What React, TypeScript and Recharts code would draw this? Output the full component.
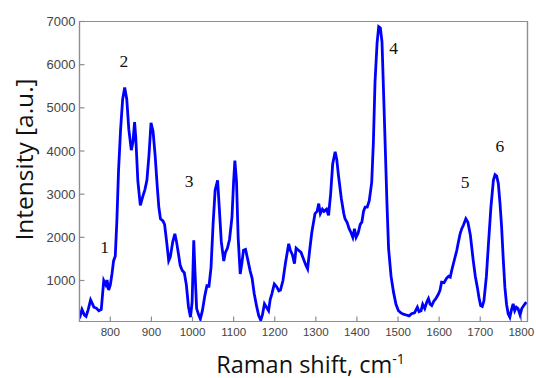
import React from 'react';
import { LineChart, Line, XAxis, YAxis, ReferenceDot, ReferenceArea, Label } from 'recharts';

// Raman shift (cm-1) and intensity (a.u.)
const ramanShift = [
  725, 731, 737, 741, 746, 752, 756, 760, 766, 772, 778, 784, 789, 792, 796, 800,
  804, 808, 812, 816, 820, 825, 830, 835, 840, 845, 851, 855, 859, 862, 867, 873,
  879, 884, 889, 894, 899, 904, 909, 914, 918, 922, 928, 932, 937, 942, 946, 952,
  957, 961, 966, 970, 975, 980, 985, 990, 995, 999, 1003, 1006, 1010, 1015, 1019, 1024,
  1030, 1035, 1040, 1045, 1050, 1055, 1061, 1065, 1070, 1076, 1080, 1085, 1090, 1096, 1100, 1103,
  1107, 1111, 1116, 1120, 1124, 1129, 1134, 1140, 1145, 1150, 1156, 1161, 1166, 1170, 1175, 1180,
  1185, 1189, 1193, 1199, 1205, 1210, 1214, 1220, 1226, 1234, 1238, 1243, 1248, 1252, 1258, 1264,
  1270, 1276, 1280, 1285, 1290, 1298, 1303, 1307, 1311, 1316, 1320, 1326, 1331, 1336, 1341, 1347,
  1351, 1355, 1362, 1368, 1371, 1376, 1381, 1386, 1390, 1394, 1398, 1403, 1408, 1412, 1416, 1420,
  1425, 1430, 1436, 1440, 1444, 1449, 1453, 1457, 1461, 1465, 1469, 1473, 1477, 1483, 1489, 1495,
  1501, 1507, 1513, 1520, 1527, 1533, 1540, 1547, 1551, 1556, 1560, 1565, 1570, 1574, 1578, 1582,
  1587, 1592, 1598, 1602, 1606, 1612, 1618, 1623, 1627, 1631, 1635, 1639, 1643, 1647, 1651, 1655,
  1659, 1665, 1670, 1676, 1683, 1688, 1693, 1697, 1701, 1705, 1709, 1715, 1720, 1726, 1732, 1736,
  1740, 1744, 1748, 1752, 1756, 1760, 1764, 1768, 1772, 1776, 1780, 1784, 1788, 1792, 1797, 1801,
  1806, 1812,
];

const intensity = [
  120, 330, 200, 170, 320, 550, 470, 380, 360, 300, 330, 1000, 900, 1010, 780, 900,
  1150, 1460, 1560, 2400, 3550, 4500, 5200, 5470, 5200, 4500, 4020, 4200, 4670, 4300, 3300, 2740,
  2950, 3100, 3320, 3900, 4650, 4450, 3900, 3200, 2700, 2430, 2380, 2300, 1900, 1460, 1550, 1900,
  2080, 1900, 1600, 1350, 1230, 1180, 900, 400, 150, 500, 1930, 1200, 350, 200, 110, 300,
  650, 880, 870, 1300, 2300, 3090, 3320, 2700, 1900, 1450, 1650, 1750, 1950, 2470, 3300, 3780,
  3300, 2000, 1150, 1400, 1700, 1720, 1500, 1230, 1050, 700, 400, 190, 80, 200, 460, 380,
  300, 560, 690, 920, 850, 760, 780, 1000, 1400, 1850, 1700, 1600, 1390, 1750, 1700, 1650,
  1500, 1350, 1270, 1700, 2100, 2550, 2600, 2780, 2550, 2650, 2600, 2650, 2510, 3000, 3700, 3980,
  3800, 3440, 2900, 2550, 2430, 2350, 2200, 2100, 2000, 2200, 2000, 2100, 2300, 2350, 2600, 2700,
  2700, 2850, 3280, 4200, 5600, 6500, 6880, 6850, 6530, 5300, 4060, 2800, 1740, 1100, 730, 450,
  300, 250, 220, 200, 180, 230, 250, 380, 280, 300, 450, 350, 500, 580, 450, 420,
  520, 580, 680, 770, 960, 950, 1050, 1100, 1080, 1250, 1400, 1550, 1700, 1900, 2080, 2200,
  2280, 2430, 2350, 2050, 1460, 1100, 840, 600, 420, 400, 530, 1100, 1850, 2700, 3320, 3450,
  3420, 3250, 2800, 2240, 1500, 840, 450, 230, 150, 320, 460, 300, 380, 350, 200, 350,
  420, 500,
];

const xTicks = [800, 900, 1000, 1100, 1200, 1300, 1400, 1500, 1600, 1700, 1800];
const yTicks = [1000, 2000, 3000, 4000, 5000, 6000, 7000];

// peak numbers placed in data coordinates
const peakLabels = ['1', '2', '3', '4', '5', '6'];
const peakLabelX = [786, 833, 992, 1489, 1663, 1748];
const peakLabelY = [1790, 6100, 3320, 6390, 3280, 4130];

const data = ramanShift.map((shift, i) => ({ shift, value: intensity[i] }));

const axisGrey = '#8c8c96';
const tickFont = "'Liberation Sans', Arial, sans-serif";
const titleFont = "'Open Sans', sans-serif";

const XTitle = (props: any) => {
  const { viewBox } = props;
  const cx = viewBox.x + viewBox.width / 2 + 7;
  const y = viewBox.y + 51;
  return (
    <text x={cx} y={y} textAnchor="middle" fontFamily={titleFont} fontSize={23.5} fill="#111">
      <tspan>Raman shift, cm</tspan>
      <tspan dy={-9} fontSize={14}>-1</tspan>
    </text>
  );
};

const YTitle = (props: any) => {
  const { viewBox } = props;
  const x = viewBox.x + 33;
  const cy = viewBox.y + viewBox.height / 2 - 12;
  return (
    <text
      x={x}
      y={cy}
      transform={`rotate(-90, ${x}, ${cy})`}
      textAnchor="middle"
      fontFamily={titleFont}
      fontSize={24.5}
      fill="#111"
    >
      Intensity [a.u.]
    </text>
  );
};

const frame = { stroke: axisGrey, strokeWidth: 1.2 };

const App = () => {
  return (
    <div style={{ position: 'absolute', left: 0, top: 0 }}>
      <LineChart width={536} height={378} data={data} margin={{ top: 21.5, right: 8.5, bottom: 0, left: 0 }}>
        <XAxis
          dataKey="shift"
          type="number"
          domain={[725, 1815]}
          ticks={xTicks}
          interval={0}
          allowDataOverflow
          height={56.5}
          axisLine={frame}
          tickLine={frame}
          tickSize={-5}
          tickMargin={11}
          tick={{ fontSize: 11.6, fill: '#444', fontFamily: tickFont }}
        >
          <Label content={XTitle} />
        </XAxis>
        <XAxis
          xAxisId="top"
          orientation="top"
          mirror
          dataKey="shift"
          type="number"
          domain={[725, 1815]}
          ticks={xTicks}
          interval={0}
          allowDataOverflow
          axisLine={frame}
          tickLine={frame}
          tickSize={5}
          tick={false}
        />
        <YAxis
          type="number"
          domain={[50, 7000]}
          ticks={yTicks}
          interval={0}
          allowDataOverflow
          width={79.5}
          axisLine={frame}
          tickLine={frame}
          tickSize={-5}
          tickMargin={9}
          tick={{ fontSize: 13, fill: '#444', fontFamily: tickFont }}
        >
          <Label content={YTitle} />
        </YAxis>
        <YAxis
          yAxisId="right"
          orientation="right"
          mirror
          type="number"
          domain={[50, 7000]}
          ticks={yTicks}
          interval={0}
          allowDataOverflow
          axisLine={frame}
          tickLine={frame}
          tickSize={5}
          tick={false}
        />
        <ReferenceArea
          x1={725}
          x2={1815}
          y1={50}
          y2={7000}
          fill="none"
          stroke={axisGrey}
          strokeWidth={1.2}
          ifOverflow="visible"
        />
        <Line
          type="linear"
          dataKey="value"
          stroke="#0000ff"
          strokeWidth={2.8}
          dot={false}
          isAnimationActive={false}
        />
        {peakLabels.map((text, i) => (
          <ReferenceDot
            key={text}
            x={peakLabelX[i]}
            y={peakLabelY[i]}
            r={0}
            fill="none"
            stroke="none"
            label={{
              value: text,
              position: 'center',
              fontSize: 17.5,
              fill: '#111',
              fontFamily: "'Liberation Serif', 'Times New Roman', serif",
            }}
          />
        ))}
      </LineChart>
    </div>
  );
};

export default App;
